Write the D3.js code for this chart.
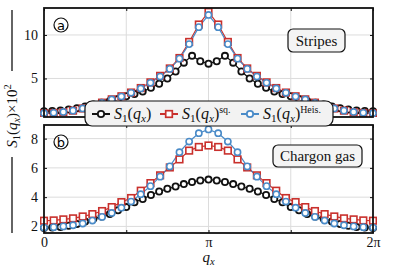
<!DOCTYPE html>
<html>
<head>
<meta charset="utf-8">
<script src="https://cdn.jsdelivr.net/npm/d3@7"></script>
<style>
  body { margin: 0; background: #fff; }
  svg text { font-family: "Liberation Serif", serif; }
</style>
</head>
<body>
<div id="chart"></div>
<script>
// black: 41 points over [0, 2pi]; sq. and Heis.: 35 points over [0, 2pi]
// only half (0..pi) is listed, the rest is mirrored
var stripesS1 = [1.22, 1.27, 1.33, 1.43, 1.58, 1.78, 2.0, 2.2, 2.42, 2.65, 2.95, 3.22, 3.5, 3.92, 4.4, 5.0, 5.8, 6.82, 7.6, 6.98, 6.7]
var stripesSq = [0.98, 1.03, 1.13, 1.3, 1.55, 1.85, 2.22, 2.6, 2.95, 3.38, 3.9, 4.55, 5.3, 6.15, 7.35, 9.2, 11.2, 12.65]
var stripesHeis = [1.0, 1.05, 1.15, 1.3, 1.55, 1.85, 2.2, 2.58, 2.92, 3.35, 3.85, 4.5, 5.22, 6.1, 7.28, 8.95, 10.9, 12.3]
var gasS1 = [1.9, 1.92, 1.96, 2.05, 2.16, 2.34, 2.52, 2.68, 2.84, 3.1, 3.32, 3.65, 3.87, 4.15, 4.39, 4.57, 4.73, 4.89, 5.03, 5.14, 5.2]
var gasSq = [2.39, 2.41, 2.48, 2.55, 2.68, 2.84, 3.05, 3.32, 3.66, 3.94, 4.44, 4.96, 5.49, 6.03, 6.58, 7.18, 7.43, 7.53]
var gasHeis = [1.92, 1.95, 2.0, 2.08, 2.2, 2.4, 2.65, 2.92, 3.28, 3.7, 4.2, 4.75, 5.4, 6.1, 7.07, 7.8, 8.37, 8.63]

var xTicks = [0, Math.PI / 2, Math.PI, 3 * Math.PI / 2, 2 * Math.PI]
var xTickLabels = ['0', '', 'π', '', '2π']
var yTicksA = [5, 10]
var yTicksB = [2, 4, 6, 8]

var width = 395
var height = 268

var red = '#c9302c'
var blue = '#4a8bc8'

function mirror(half) {
  var out = half.slice()
  for (var i = half.length - 2; i >= 0; i--) out.push(half[i])
  return out
}

function toPoints(half) {
  var vals = mirror(half)
  var n = vals.length - 1
  return vals.map(function(v, i) { return { q: 2 * Math.PI * i / n, v: v } })
}

var svg = d3
  .select('#chart')
  .append('svg')
  .attr('width', width)
  .attr('height', height)

var x = d3.scaleLinear().domain([0, 2 * Math.PI]).range([44, 373])

var panels = [
  { id: 'a', top: 8, bottom: 117, domain: [0.57, 13.1], ticks: yTicksA,
    s1: stripesS1, sq: stripesSq, heis: stripesHeis, label: 'Stripes',
    box: { x: 288, y: 29, w: 57, h: 23 } },
  { id: 'b', top: 125, bottom: 233, domain: [1.55, 8.93], ticks: yTicksB,
    s1: gasS1, sq: gasSq, heis: gasHeis, label: 'Chargon gas',
    box: { x: 273, y: 145, w: 89, h: 22 } }
]

panels.forEach(function(p) {
  var y = d3.scaleLinear().domain(p.domain).range([p.bottom, p.top])
  var g = svg.append('g')
  var clipId = 'clip-' + p.id
  svg.append('clipPath').attr('id', clipId)
    .append('rect')
    .attr('x', 40).attr('y', p.top - 4)
    .attr('width', 337).attr('height', p.bottom - p.top + 4)

  // grid
  g.selectAll('.gx').data(xTicks.slice(1, 4)).enter().append('line')
    .attr('x1', d => x(d)).attr('x2', d => x(d))
    .attr('y1', p.top).attr('y2', p.bottom)
    .attr('stroke', '#dcdcdc').attr('stroke-width', 1)
  g.selectAll('.gy').data(p.ticks).enter().append('line')
    .attr('x1', x(0)).attr('x2', x(2 * Math.PI))
    .attr('y1', d => y(d)).attr('y2', d => y(d))
    .attr('stroke', '#dcdcdc').attr('stroke-width', 1)

  // inward ticks on all four sides
  var leftAxis = d3.axisLeft(y).tickValues(p.ticks).tickSize(-3).tickPadding(6)
  var rightAxis = d3.axisRight(y).tickValues(p.ticks).tickSize(-3).tickFormat('')
  var topAxis = d3.axisTop(x).tickValues(xTicks).tickSize(-3).tickFormat('')
  var bottomAxis = d3.axisBottom(x).tickValues(xTicks).tickSize(-3).tickPadding(4)
    .tickFormat((d, i) => p.id === 'b' ? xTickLabels[i] : '')

  var axes = [
    g.append('g').attr('transform', 'translate(' + x(0) + ',0)').call(leftAxis),
    g.append('g').attr('transform', 'translate(' + x(2 * Math.PI) + ',0)').call(rightAxis),
    g.append('g').attr('transform', 'translate(0,' + p.top + ')').call(topAxis),
    g.append('g').attr('transform', 'translate(0,' + p.bottom + ')').call(bottomAxis)
  ]
  axes.forEach(function(a) {
    a.attr('font-family', null).attr('font-size', 14)
    a.select('.domain').remove()
    a.selectAll('line').attr('stroke', '#111').attr('stroke-width', 1)
    a.selectAll('text').attr('fill', '#111')
  })

  // series
  var series = [
    { pts: toPoints(p.s1), color: '#111', shape: 'circle', r: 3.1, sw: 1.8 },
    { pts: toPoints(p.sq), color: red, shape: 'square', r: 3.3, sw: 1.6 },
    { pts: toPoints(p.heis), color: blue, shape: 'circle', r: 3.1, sw: 1.6 }
  ]
  var plot = g.append('g').attr('clip-path', 'url(#' + clipId + ')')
  var line = d3.line().x(d => x(d.q)).y(d => y(d.v))
  series.forEach(function(s) {
    plot.append('path').datum(s.pts)
      .attr('d', line)
      .attr('fill', 'none')
      .attr('stroke', s.color)
      .attr('stroke-width', 1.2)
  })
  series.forEach(function(s) {
    if (s.shape === 'circle') {
      plot.selectAll(null).data(s.pts).enter().append('circle')
        .attr('cx', d => x(d.q)).attr('cy', d => y(d.v)).attr('r', s.r)
        .attr('fill', 'white').attr('stroke', s.color).attr('stroke-width', s.sw)
    } else {
      plot.selectAll(null).data(s.pts).enter().append('rect')
        .attr('x', d => x(d.q) - s.r).attr('y', d => y(d.v) - s.r)
        .attr('width', 2 * s.r).attr('height', 2 * s.r)
        .attr('fill', 'white').attr('stroke', s.color).attr('stroke-width', s.sw)
    }
  })

  // frame
  g.append('rect')
    .attr('x', x(0)).attr('y', p.top)
    .attr('width', x(2 * Math.PI) - x(0)).attr('height', p.bottom - p.top)
    .attr('fill', 'none').attr('stroke', '#111').attr('stroke-width', 1.8)

  // panel letter
  var lx = 61, ly = p.top + 17
  g.append('circle').attr('cx', lx).attr('cy', ly).attr('r', 7)
    .attr('fill', 'white').attr('stroke', '#111').attr('stroke-width', 1.2)
  g.append('text').attr('x', lx).attr('y', ly + 4.5)
    .attr('text-anchor', 'middle').attr('font-size', 13)
    .style('font-family', '"DejaVu Sans", sans-serif')
    .text(p.id)

  // case label
  g.append('rect')
    .attr('x', p.box.x).attr('y', p.box.y).attr('width', p.box.w).attr('height', p.box.h)
    .attr('rx', 5).attr('fill', '#f4f4f4').attr('stroke', '#111').attr('stroke-width', 1.2)
  g.append('text')
    .attr('x', p.box.x + p.box.w / 2).attr('y', p.box.y + p.box.h / 2 + 5)
    .attr('text-anchor', 'middle').attr('fill', '#111').attr('font-size', 15)
    .text(p.label)
})

// S_1(q_x) math label helper
function mathLabel(t, sup) {
  t.append('tspan').attr('font-style', 'italic').text('S')
  t.append('tspan').attr('font-size', '0.7em').attr('dy', 3).text('1')
  t.append('tspan').attr('dy', -3).text('(')
  t.append('tspan').attr('font-style', 'italic').text('q')
  t.append('tspan').attr('font-style', 'italic').attr('font-size', '0.7em').attr('dy', 3).text('x')
  t.append('tspan').attr('dy', -3).text(')')
  if (sup) {
    t.append('tspan').attr('font-size', '0.62em').attr('dy', -6).text(sup)
  }
}

// legend
var legend = svg.append('g')
legend.append('rect')
  .attr('x', 85).attr('y', 101).attr('width', 248).attr('height', 25)
  .attr('rx', 7).attr('fill', '#f2f2f2').attr('stroke', '#111').attr('stroke-width', 1.2)

var legendItems = [
  { color: '#111', shape: 'circle', x: 92, tx: 114, sup: '' },
  { color: red, shape: 'square', x: 160, tx: 182, sup: 'sq.' },
  { color: blue, shape: 'circle', x: 241, tx: 263, sup: 'Heis.' }
]
legendItems.forEach(function(it) {
  var cy = 114
  legend.append('line').attr('x1', it.x).attr('x2', it.x + 18)
    .attr('y1', cy).attr('y2', cy).attr('stroke', it.color).attr('stroke-width', 2)
  if (it.shape === 'circle') {
    legend.append('circle').attr('cx', it.x + 9).attr('cy', cy).attr('r', 3.2)
      .attr('fill', 'white').attr('stroke', it.color).attr('stroke-width', 1.8)
  } else {
    legend.append('rect').attr('x', it.x + 5.7).attr('y', cy - 3.3)
      .attr('width', 6.6).attr('height', 6.6)
      .attr('fill', 'white').attr('stroke', it.color).attr('stroke-width', 1.7)
  }
  var t = legend.append('text').attr('x', it.tx).attr('y', cy + 5)
    .attr('fill', '#111').attr('font-size', 16)
  mathLabel(t, it.sup)
})

// y label with rules above and below
svg.append('line').attr('x1', 12).attr('x2', 12).attr('y1', 10).attr('y2', 71)
  .attr('stroke', '#111').attr('stroke-width', 1.3)
svg.append('line').attr('x1', 12).attr('x2', 12).attr('y1', 157).attr('y2', 233)
  .attr('stroke', '#111').attr('stroke-width', 1.3)
var yl = svg.append('text')
  .attr('transform', 'translate(17,116) rotate(-90)')
  .attr('text-anchor', 'middle').attr('fill', '#111').attr('font-size', 15)
mathLabel(yl, '')
yl.append('tspan').text('×10')
yl.append('tspan').attr('font-size', '0.7em').attr('dy', -6).text('2')

// x label
var xl = svg.append('text').attr('x', x(Math.PI)).attr('y', 262)
  .attr('text-anchor', 'middle').attr('fill', '#111').attr('font-size', 15)
xl.append('tspan').attr('font-style', 'italic').text('q')
xl.append('tspan').attr('font-style', 'italic').attr('font-size', '0.7em').attr('dy', 3).text('x')
</script>
</body>
</html>
